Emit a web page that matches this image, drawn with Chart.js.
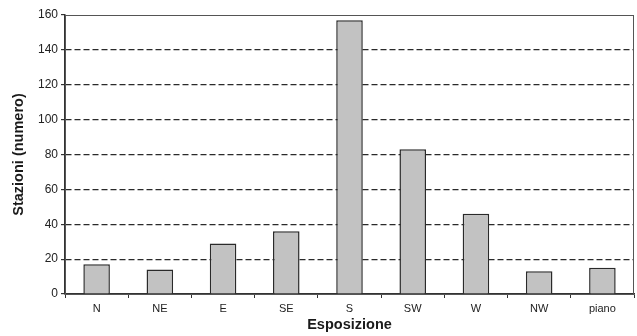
<!DOCTYPE html>
<html>
<head>
<meta charset="utf-8">
<script src="https://cdn.jsdelivr.net/npm/chart.js@4"></script>
<style>
  html, body { margin: 0; padding: 0; background: #fff; }
  #wrap { width: 637px; height: 336px; }
</style>
</head>
<body>
<div id="wrap"><canvas id="c" width="637" height="336"></canvas></div>
<script>
const categories = ['N', 'NE', 'E', 'SE', 'S', 'SW', 'W', 'NW', 'piano'];
const stations = [17, 14, 29, 36, 157, 83, 46, 13, 15];
const yTicks = [0, 20, 40, 60, 80, 100, 120, 140, 160];

const frame = {
  id: 'frame',
  afterDatasetsDraw(chart) {
    const { ctx, chartArea: a } = chart;
    ctx.save();
    ctx.strokeStyle = '#555';
    ctx.lineWidth = 1;
    ctx.strokeRect(a.left + 0.5, a.top + 0.5, a.right - a.left - 1, a.bottom - a.top);
    ctx.restore();
  }
};

new Chart(document.getElementById('c'), {
  type: 'bar',
  data: {
    labels: categories,
    datasets: [{
      data: stations,
      backgroundColor: '#c2c2c2',
      borderColor: '#2a2a2a',
      borderWidth: 1.5,
      barPercentage: 0.42,
      categoryPercentage: 1
    }]
  },
  options: {
    responsive: false,
    animation: false,
    layout: { padding: { top: 15, right: 3, left: 0, bottom: 0 } },
    plugins: { legend: { display: false }, tooltip: { enabled: false } },
    scales: {
      x: {
        afterFit(s) { s.height = 42; },
        grid: { drawOnChartArea: false, drawTicks: true, tickLength: 4, color: '#333' },
        border: { color: '#333', width: 1.5 },
        ticks: { color: '#222', font: { family: 'Liberation Sans', size: 11 }, padding: 4 },
        title: { display: true, text: 'Esposizione', color: '#1a1a1a', font: { family: 'Liberation Sans', size: 14.5, weight: 'bold' }, padding: { top: 0, bottom: 2 } }
      },
      y: {
        min: 0, max: 160,
        afterFit(s) { s.width = 65; },
        afterBuildTicks(s) { s.ticks = yTicks.map(v => ({ value: v })); },
        grid: {
          color: (c) => (c.tick && (c.tick.value === 0 || c.tick.value === 160)) ? 'rgba(0,0,0,0)' : '#2a2a2a',
          tickColor: '#333',
          tickLength: 4,
          lineWidth: 1.2
        },
        border: { color: '#333', width: 1.5, dash: [6, 3] },
        ticks: { color: '#222', font: { family: 'Liberation Sans', size: 12 }, padding: 3 },
        title: { display: true, text: 'Stazioni (numero)', color: '#1a1a1a', font: { family: 'Liberation Sans', size: 14.5, weight: 'bold' }, padding: { top: 10, bottom: 0 } }
      }
    }
  },
  plugins: [frame]
});
</script>
</body>
</html>
